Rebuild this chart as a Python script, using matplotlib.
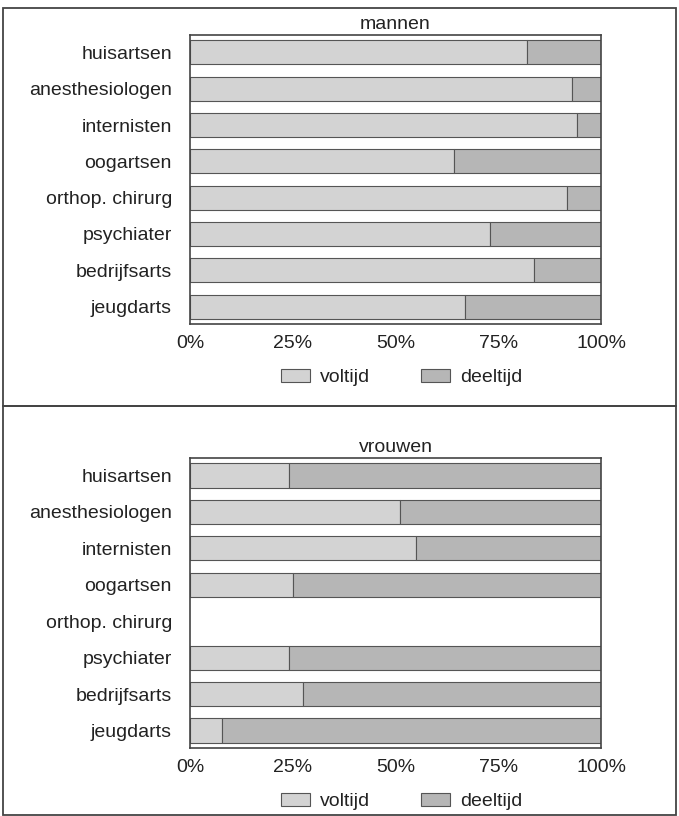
import matplotlib
matplotlib.use("Agg")
import matplotlib.pyplot as plt
from matplotlib.patches import Rectangle, Patch

plt.rcParams["font.family"] = ["Liberation Sans Narrow", "Liberation Sans", "DejaVu Sans"]

# Categories (top to bottom) and share of full-time workers (%)
categories = ["huisartsen", "anesthesiologen", "internisten", "oogartsen",
              "orthop. chirurg", "psychiater", "bedrijfsarts", "jeugdarts"]
mannen_voltijd = [82, 93, 94.2, 64.3, 91.8, 73, 83.6, 67]
# None = no data (orthop. chirurg for women)
vrouwen_voltijd = [24, 51, 55, 25, None, 24, 27.6, 7.7]

ticks = [0, 25, 50, 75, 100]
tick_labels = ["0%", "25%", "50%", "75%", "100%"]

C_VOL = "#d3d3d3"
C_DEEL = "#b6b6b6"
C_EDGE = "#555555"

W, H = 679, 816
fig = plt.figure(figsize=(W / 100, H / 100), dpi=100)


def px_axes(left, top, right, bottom):
    return fig.add_axes([left / W, 1 - bottom / H, (right - left) / W, (bottom - top) / H])


def panel(ax, values, title):
    y = [i for i, v in enumerate(values) if v is not None]
    vol = [v for v in values if v is not None]
    deel = [100 - v for v in vol]
    ax.barh(y, vol, height=0.66, color=C_VOL, edgecolor=C_EDGE, linewidth=0.8)
    ax.barh(y, deel, left=vol, height=0.66, color=C_DEEL, edgecolor=C_EDGE, linewidth=0.8)
    ax.set_xlim(0, 100)
    ax.set_ylim(len(categories) - 0.52, -0.48)
    ax.set_yticks(range(len(categories)))
    ax.set_yticklabels(categories, fontsize=14, color="#222222")
    ax.set_xticks(ticks)
    ax.set_xticklabels(tick_labels, fontsize=14, color="#222222")
    ax.tick_params(length=0, pad=8)
    ax.tick_params(axis="y", pad=13)
    for s in ax.spines.values():
        s.set_color("#444444")
        s.set_linewidth(1.2)
    ax.set_title(title, fontsize=14, color="#222222", pad=4)
    handles = [Patch(facecolor=C_VOL, edgecolor=C_EDGE, linewidth=0.8, label="voltijd"),
               Patch(facecolor=C_DEEL, edgecolor=C_EDGE, linewidth=0.8, label="deeltijd")]
    ax.legend(handles=handles, loc="center", bbox_to_anchor=(0.515, -0.185), ncol=2,
              frameon=False, fontsize=14, handlelength=1.5, handleheight=0.7,
              columnspacing=2.6, handletextpad=0.5, labelcolor="#222222")


ax1 = px_axes(190, 35, 601, 324)
panel(ax1, mannen_voltijd, "mannen")
ax2 = px_axes(190, 458, 601, 748)
panel(ax2, vrouwen_voltijd, "vrouwen")

# outer frames around each panel
for top, bottom in [(8, 406), (406, 815)]:
    fig.add_artist(Rectangle((3 / W, 1 - bottom / H), (676 - 3) / W, (bottom - top) / H,
                             transform=fig.transFigure, fill=False,
                             edgecolor="#444444", linewidth=1.3))

fig.savefig("out.png", dpi=100)
